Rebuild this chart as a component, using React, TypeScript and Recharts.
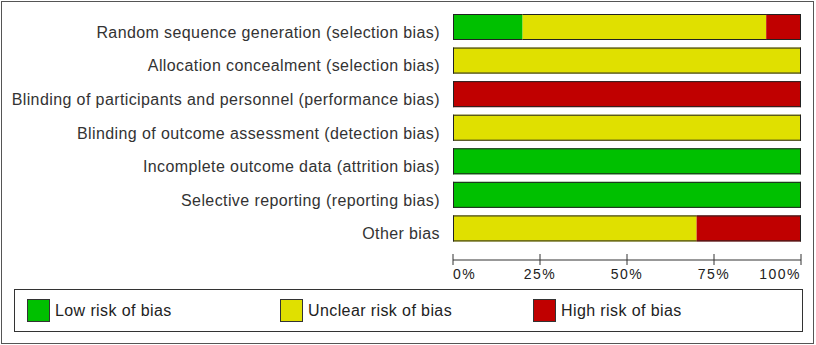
import { BarChart, Bar, XAxis, YAxis } from 'recharts';

const domains = [
  'Random sequence generation (selection bias)',
  'Allocation concealment (selection bias)',
  'Blinding of participants and personnel (performance bias)',
  'Blinding of outcome assessment (detection bias)',
  'Incomplete outcome data (attrition bias)',
  'Selective reporting (reporting bias)',
  'Other bias',
];
const lowRisk = [20, 0, 0, 0, 100, 100, 0];
const unclearRisk = [70, 100, 0, 100, 0, 0, 70];
const highRisk = [10, 0, 100, 0, 0, 0, 30];
const percentTicks = [0, 25, 50, 75, 100];

const seriesList = [
  { key: 'low', name: 'Low risk of bias', color: '#00C000' },
  { key: 'unclear', name: 'Unclear risk of bias', color: '#E0E000' },
  { key: 'high', name: 'High risk of bias', color: '#C00000' },
];

const data = domains.map((d, i) => ({
  domain: d,
  low: lowRisk[i],
  unclear: unclearRisk[i],
  high: highRisk[i],
}));

const FONT = 'Liberation Sans, Arial, sans-serif';

// draws a segment; outline only on the outside of the whole stacked bar
const segmentShape = (key: string) => (props: any) => {
  const { x, y, width, height, fill, payload } = props;
  if (!width || width <= 0) return <g />;
  const keys = ['low', 'unclear', 'high'].filter((k) => payload[k] > 0);
  const first = keys[0] === key;
  const last = keys[keys.length - 1] === key;
  const edge = '#222';
  return (
    <g>
      <rect x={x} y={y} width={width} height={height} fill={fill} />
      <line x1={x} x2={x + width} y1={y + 0.5} y2={y + 0.5} stroke={edge} />
      <line x1={x} x2={x + width} y1={y + height - 0.5} y2={y + height - 0.5} stroke={edge} />
      {first && <line x1={x + 0.5} x2={x + 0.5} y1={y} y2={y + height} stroke={edge} />}
      {last && <line x1={x + width - 0.5} x2={x + width - 0.5} y1={y} y2={y + height} stroke={edge} />}
    </g>
  );
};

const DomainTick = (props: any) => {
  const { x, y, payload } = props;
  return (
    <text x={x} y={y + 11} textAnchor="end" fontSize={16} letterSpacing={0.4} fill="#333" fontFamily={FONT}>
      {payload.value}
    </text>
  );
};

const PercentTick = (props: any) => {
  const { x, y, payload } = props;
  const v = payload.value;
  const anchor = v === 0 ? 'start' : v === 100 ? 'end' : 'middle';
  return (
    <g>
      <line x1={x} x2={x} y1={y - 6} y2={y + 5} stroke="#333" />
      <text
        x={x}
        y={y + 19}
        textAnchor={anchor}
        fontSize={14}
        letterSpacing={1.5}
        fill="#222"
        fontFamily={FONT}
      >
        {v}%
      </text>
    </g>
  );
};

const LegendBox = () => (
  <div
    style={{
      position: 'absolute',
      left: 14,
      top: 289,
      width: 787,
      height: 41,
      border: '1px solid #333',
      fontFamily: FONT,
      fontSize: 16,
      letterSpacing: 0.4,
      color: '#222',
    }}
  >
    {seriesList.map((s, i) => (
      <div
        key={s.key}
        style={{ position: 'absolute', left: 12 + i * 253, top: 9, display: 'flex', alignItems: 'center' }}
      >
        <div style={{ width: 23, height: 23, background: s.color, border: '1px solid #333', boxSizing: 'border-box' }} />
        <span style={{ marginLeft: 5 }}>{s.name}</span>
      </div>
    ))}
  </div>
);

export default function App() {
  return (
    <div style={{ position: 'absolute', left: 0, top: 0, width: 816, height: 345, background: '#fff' }}>
      <div
        style={{
          position: 'absolute',
          left: 1,
          top: 1,
          width: 811,
          height: 341,
          border: '1px solid #555',
        }}
      />
      <BarChart
        width={816}
        height={345}
        data={data}
        layout="vertical"
        barSize={26}
        margin={{ top: 10, right: 15, bottom: 55, left: 0 }}
      >
        <XAxis
          type="number"
          domain={[0, 100]}
          ticks={percentTicks}
          tick={<PercentTick />}
          tickLine={false}
          tickSize={0}
          tickMargin={0}
          axisLine={{ stroke: '#333' }}
          height={30}
          interval={0}
        />
        <YAxis
          type="category"
          dataKey="domain"
          width={453}
          axisLine={false}
          tickLine={false}
          tickSize={0}
          tickMargin={13}
          padding={{ top: 0, bottom: 15 }}
          interval={0}
          tick={<DomainTick />}
        />
        {seriesList.map((s) => (
          <Bar
            key={s.key}
            dataKey={s.key}
            name={s.name}
            stackId="risk"
            fill={s.color}
            shape={segmentShape(s.key)}
            isAnimationActive={false}
          />
        ))}
      </BarChart>
      <LegendBox />
    </div>
  );
}
